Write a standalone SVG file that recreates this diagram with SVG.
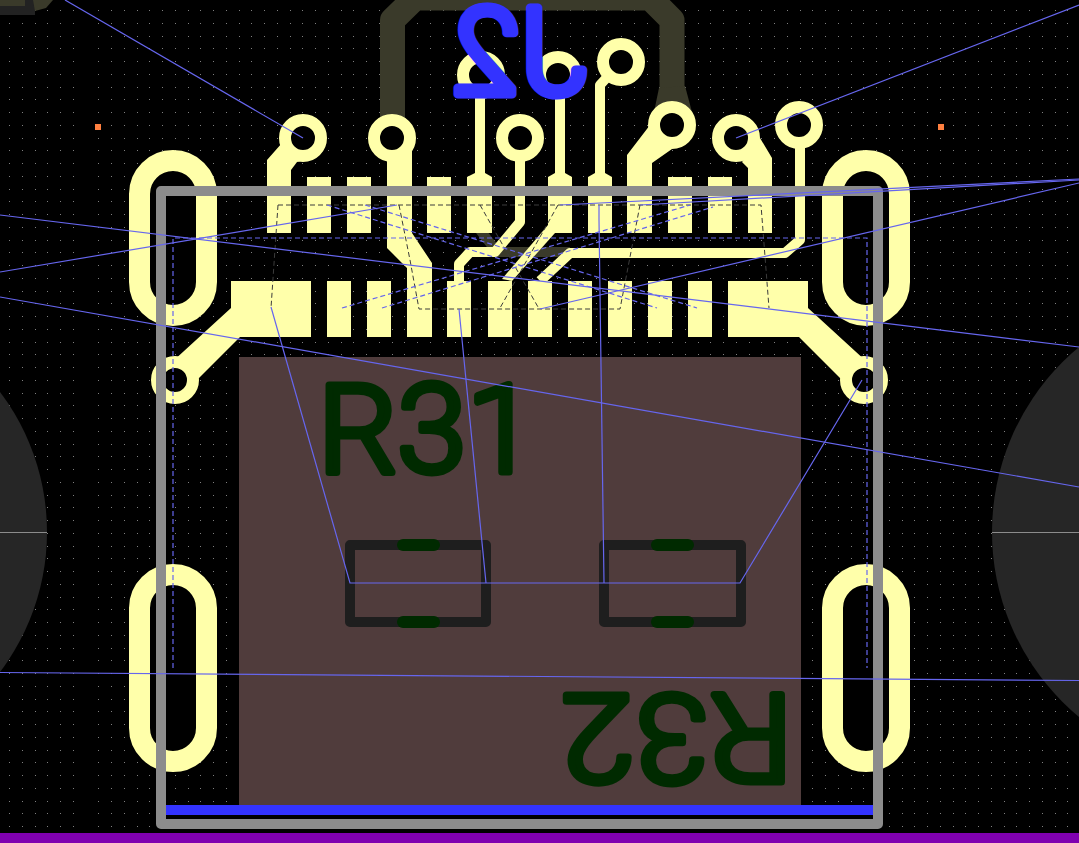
<svg xmlns="http://www.w3.org/2000/svg" width="1079" height="843" viewBox="0 0 1079 843">
<style>
.cu{fill:#ffffaa}
.tr{fill:none;stroke:#ffffaa;stroke-width:10;stroke-linejoin:round}
.via{fill:#000;stroke:#ffffaa;stroke-width:12}
.slot{fill:#000;stroke:#ffffaa;stroke-width:21}
.sil{fill:none;stroke:#1e1e1e;stroke-width:10;stroke-linejoin:round}
.gp{fill:#002a00}
.rat{fill:none;stroke:#6666ee;stroke-width:1.2}
.dash{fill:none;stroke:#6666ee;stroke-width:1.2;stroke-dasharray:5 3}
.out{fill:none;stroke:#3c3c3c;stroke-width:1;stroke-dasharray:5 3}
.lbl{font-family:Roboto,"Liberation Sans",Arial,sans-serif;font-weight:300;stroke-linejoin:round;stroke-linecap:round}
.ref{fill:#002a00;stroke:#002a00;stroke-width:7}
</style>
<rect width="1079" height="843" fill="#000"/>
<path id="grid" fill="none" stroke="#808080" stroke-width="1" stroke-dasharray="1 11.75" shape-rendering="crispEdges" d="M9 10.5H1079M9 23.500H1079M9 36.5H1079M9 48.5H1079M9 61.5H1079M9 74.5H1079M9 87.5H1079M9 99.5H1079M9 112.5H1079M9 125.5H1079M9 138.5H1079M9 150.5H1079M9 163.5H1079M9 176.5H1079M9 189.5H1079M9 201.5H1079M9 214.5H1079M9 227.5H1079M9 240.5H1079M9 252.5H1079M9 265.5H1079M9 278.5H1079M9 291.5H1079M9 303.5H1079M9 316.5H1079M9 329.5H1079M9 342.5H1079M9 354.5H1079M9 367.5H1079M9 380.5H1079M9 393.5H1079M9 405.5H1079M9 418.5H1079M9 431.5H1079M9 444.5H1079M9 456.5H1079M9 469.5H1079M9 482.5H1079M9 495.5H1079M9 507.5H1079M9 520.5H1079M9 533.5H1079M9 546.5H1079M9 558.5H1079M9 571.5H1079M9 584.5H1079M9 597.5H1079M9 609.5H1079M9 622.5H1079M9 635.5H1079M9 648.5H1079M9 660.5H1079M9 673.5H1079M9 686.5H1079M9 699.5H1079M9 711.5H1079M9 724.5H1079M9 737.5H1079M9 750.5H1079M9 762.5H1079M9 775.5H1079M9 788.5H1079M9 801.5H1079M9 813.5H1079M9 826.5H1079"/>
<g id="mounting">
<circle cx="-185" cy="532" r="232" fill="#262626"/>
<circle cx="1232" cy="532" r="240" fill="#262626"/>
<path d="M0 532.5H47M992 532.5H1079" stroke="#8c8c8c" stroke-width="1"/>
</g>
<g id="corner">
<rect x="0" y="0" width="35" height="15" fill="#222"/>
<rect x="0" y="0" width="25" height="6" fill="#3a3a2a"/>
<path d="M33 0H53L46 8L35 11Z" fill="#3a3a2a"/>
</g>
<g id="markers" fill="#ff8040">
<rect x="95" y="124" width="6" height="6"/>
<rect x="938" y="124" width="6" height="6"/>
</g>
<g id="back-traces" fill="none" stroke="#3a3a2a">
<path d="M392.500 138V20L415 -2H650L672 20V125" stroke-width="25" stroke-linejoin="round"/>
<path d="M659 88L654 112H692L685 86Z" fill="#3a3a2a" stroke="none"/>
<path d="M480 230L497 252H570" stroke-width="10"/>
</g>
<g id="body">
<rect x="239" y="357" width="562" height="448" fill="#503c3c"/>
</g>
<g id="slots">
<rect class="slot" x="139.5" y="160.5" width="67" height="155" rx="33.5"/>
<rect class="slot" x="832.5" y="160.5" width="67" height="155" rx="33.5"/>
<rect class="slot" x="139.5" y="574.5" width="67" height="187" rx="33.5"/>
<rect class="slot" x="832.5" y="574.5" width="67" height="187" rx="33.5"/>
</g>
<g id="top-pads" class="cu">
<rect x="267" y="177" width="24" height="56"/>
<rect x="307" y="177" width="24" height="56"/>
<rect x="347" y="177" width="24" height="56"/>
<rect x="427" y="177" width="24" height="56"/>
<rect x="467" y="177" width="25" height="56"/>
<rect x="548" y="177" width="24" height="56"/>
<rect x="588" y="177" width="24" height="56"/>
<rect x="627" y="177" width="25" height="56"/>
<rect x="668" y="177" width="24" height="56"/>
<rect x="708" y="177" width="24" height="56"/>
<rect x="748" y="177" width="24" height="56"/>
</g>
<g id="bottom-pads" class="cu">
<path d="M231 281V308L172 362L192 385L240 337H311V281Z"/>
<rect x="327" y="281" width="24" height="56"/>
<rect x="367" y="281" width="24" height="56"/>
<rect x="407" y="281" width="25" height="56"/>
<rect x="447" y="281" width="24" height="56"/>
<rect x="488" y="281" width="24" height="56"/>
<rect x="528" y="281" width="24" height="56"/>
<rect x="568" y="281" width="24" height="56"/>
<rect x="608" y="281" width="24" height="56"/>
<rect x="648" y="281" width="24" height="56"/>
<rect x="688" y="281" width="24" height="56"/>
<path d="M808 281V308L867 362L847 385L799 337H728V281Z"/>
</g>
<g id="traces">
<path class="cu" d="M267 178V160L282 143L305 160L297 162L291 170V178Z"/>
<path class="cu" d="M627 178V155L650 125L672 149L652 163V178Z"/>
<path class="cu" d="M748 178V168L742 162L760 138L772 158V178Z"/>
<path class="cu" d="M387 150H412V233L432 263V281H407V268L387 248Z"/>
<path class="tr" d="M480 75V177M560 75V177"/>
<path class="cu" d="M467 177L475 173H485L492 177ZM548 177L555 173H565L572 177ZM588 177L595 173H605L612 177Z"/>
<path class="tr" d="M621 62L600 85V177"/>
<path class="tr" d="M520 138V222L495 252H470L459 264V281"/>
<path class="tr" d="M800 125V240L785 253H570L540 281"/>
<path class="cu" d="M548 225L502 279L512 281L555 233Z"/>
</g>
<g id="vias">
<circle class="via" cx="303" cy="138" r="18"/>
<circle class="via" cx="392" cy="138" r="18"/>
<circle class="via" cx="520" cy="138" r="18"/>
<circle class="via" cx="481" cy="75" r="18"/>
<circle class="via" cx="558" cy="75" r="18"/>
<circle class="via" cx="621" cy="62" r="18"/>
<circle class="via" cx="672" cy="125" r="18"/>
<circle class="via" cx="736" cy="138" r="18"/>
<circle class="via" cx="799" cy="125" r="18"/>
<circle class="via" cx="175" cy="380" r="18"/>
<circle class="via" cx="864" cy="380" r="18"/>
</g>
<g id="R31">
<rect class="sil" x="350" y="545" width="136" height="77"/>
<rect class="gp" x="397" y="539" width="43" height="12" rx="6"/>
<rect class="gp" x="397" y="616" width="43" height="12" rx="6"/>
<text class="lbl ref" x="318" y="472" font-size="122" textLength="218" lengthAdjust="spacingAndGlyphs">R31</text>
</g>
<g id="R32">
<rect class="sil" x="604" y="545" width="137" height="77"/>
<rect class="gp" x="651" y="539" width="43" height="12" rx="6"/>
<rect class="gp" x="651" y="616" width="43" height="12" rx="6"/>
<text class="lbl ref" transform="translate(793,695) rotate(180)" font-size="122" textLength="232" lengthAdjust="spacingAndGlyphs">R32</text>
</g>
<rect id="edge-bar" x="166" y="805" width="707" height="10" fill="#3333ff"/>
<rect id="courtyard" x="161" y="191" width="717" height="633" fill="none" stroke="#8c8c8c" stroke-width="10" stroke-linejoin="round"/>
<rect id="board-edge" x="0" y="833" width="1079" height="10" fill="#8000b0"/>
<text id="J2" class="lbl" transform="translate(587,93.500) scale(-1,1)" font-size="120" textLength="134" lengthAdjust="spacingAndGlyphs" fill="#3333ff" stroke="#3333ff" stroke-width="9">J2</text>
<g id="outline">
<path class="out" d="M278 205H761L769 308M278 205L271 308M399 205L410 260L419 309H620L640 205M480 205L538 307M558 205L500 308"/>
</g>
<g id="connectors">
<path class="rat" d="M65 0L303 138"/>
<path class="rat" d="M1079 5L736 138"/>
<path class="rat" d="M0 215L1079 347"/>
<path class="rat" d="M0 272L397 205"/>
<path class="rat" d="M0 297L1079 487"/>
<path class="rat" d="M0 672.5L1079 680.5"/>
<path class="rat" d="M560 205L1079 179"/>
<path class="rat" d="M640 205L1079 180"/>
<path class="rat" d="M540 309L1079 183"/>
<path class="rat" d="M599 205V220L604 583"/>
<path class="rat" d="M271 307L350 583H740L862 380"/>
<path class="rat" d="M459 309L486 583"/>
<path class="dash" d="M173 668V238H867V668"/>
<path class="dash" d="M342 308L690 205"/>
<path class="dash" d="M382 308L713 207"/>
<path class="dash" d="M327 205L657 308"/>
<path class="dash" d="M365 205L697 308"/>
</g>
</svg>
